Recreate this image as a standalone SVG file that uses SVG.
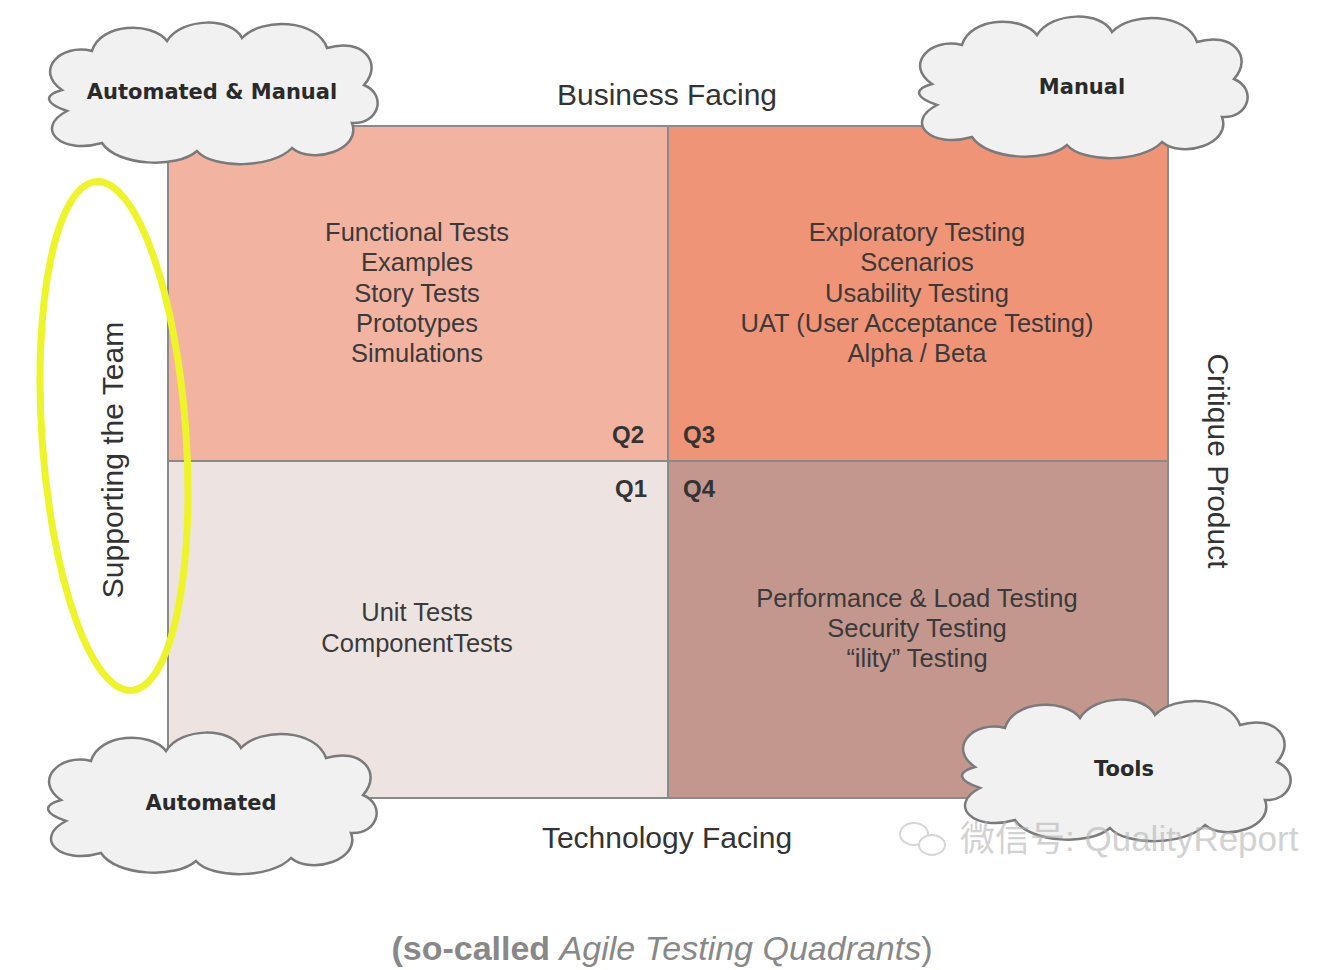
<svg xmlns="http://www.w3.org/2000/svg" width="1338" height="970" viewBox="0 0 1338 970">
<style>
.q{font-family:"Liberation Sans",Arial,sans-serif;font-size:25.5px;fill:#3a3a3a;text-anchor:middle}
.ql{font-family:"Liberation Sans",Arial,sans-serif;font-size:24px;font-weight:bold;fill:#333;text-anchor:middle}
.ax{font-family:"Liberation Sans",Arial,sans-serif;font-size:30px;fill:#333;text-anchor:middle}
.cl{font-family:"DejaVu Sans",Verdana,sans-serif;font-size:21px;font-weight:bold;fill:#2a2a2a;text-anchor:middle}
.cloud{fill:#f1f1f1;stroke:#7a7a7a;stroke-width:2.5}
</style>
<defs>
<path id="cloudShape" d="M -150,-3 C -178,-22 -152,-50 -120,-42 C -112,-70 -60,-72 -45,-52 C -30,-76 20,-76 30,-55 C 50,-76 105,-74 115,-45 C 150,-56 172,-30 152,-8 C 176,2 166,32 140,30 C 150,57 100,72 80,55 C 60,76 0,76 -15,58 C -35,76 -95,73 -110,50 C -152,62 -178,35 -145,18 C -168,10 -168,2 -150,-3 Z"/>
</defs>
<rect width="1338" height="970" fill="#ffffff"/>
<g id="quadrants">
<rect x="168" y="126" width="500" height="335" fill="#f2b3a0"/>
<rect x="668" y="126" width="500" height="335" fill="#ef9477"/>
<rect x="168" y="461" width="500" height="337" fill="#ede4e2"/>
<rect x="668" y="461" width="500" height="337" fill="#c3978e"/>
<rect x="168" y="126" width="1000" height="672" fill="none" stroke="#8a8a8a" stroke-width="2"/>
<line x1="668" y1="126" x2="668" y2="798" stroke="#8a8a8a" stroke-width="2"/>
<line x1="168" y1="461" x2="1168" y2="461" stroke="#8a8a8a" stroke-width="2"/>
</g>
<g id="q2">
<text class="q" x="417" y="241">Functional Tests</text>
<text class="q" x="417" y="271">Examples</text>
<text class="q" x="417" y="302">Story Tests</text>
<text class="q" x="417" y="332">Prototypes</text>
<text class="q" x="417" y="362">Simulations</text>
<text class="ql" x="628" y="443">Q2</text>
</g>
<g id="q3">
<text class="q" x="917" y="241">Exploratory Testing</text>
<text class="q" x="917" y="271">Scenarios</text>
<text class="q" x="917" y="302">Usability Testing</text>
<text class="q" x="917" y="332">UAT (User Acceptance Testing)</text>
<text class="q" x="917" y="362">Alpha / Beta</text>
<text class="ql" x="699" y="443">Q3</text>
</g>
<g id="q1">
<text class="q" x="417" y="621">Unit Tests</text>
<text class="q" x="417" y="652">ComponentTests</text>
<text class="ql" x="631" y="497">Q1</text>
</g>
<g id="q4">
<text class="q" x="917" y="607">Performance &amp; Load Testing</text>
<text class="q" x="917" y="637">Security Testing</text>
<text class="q" x="917" y="667">“ility” Testing</text>
<text class="ql" x="699" y="497">Q4</text>
</g>
<g id="axes">
<text class="ax" x="667" y="105">Business Facing</text>
<text class="ax" x="667" y="848">Technology Facing</text>
<text class="ax" transform="translate(123,460) rotate(-90)">Supporting the Team</text>
<text class="ax" transform="translate(1208,461) rotate(90)">Critique Product</text>
</g>
<g id="highlight">
<ellipse cx="114" cy="436" rx="72" ry="255" transform="rotate(-4 114 436)" fill="none" stroke="#eef42a" stroke-width="7"/>
</g>
<g id="cloud-automated-manual">
<use href="#cloudShape" class="cloud" transform="translate(212,93)"/>
<text class="cl" x="212" y="99">Automated &amp; Manual</text>
</g>
<g id="cloud-manual">
<use href="#cloudShape" class="cloud" transform="translate(1082,87)"/>
<text class="cl" x="1082" y="94">Manual</text>
</g>
<g id="cloud-automated">
<use href="#cloudShape" class="cloud" transform="translate(211,803)"/>
<text class="cl" x="211" y="810">Automated</text>
</g>
<g id="cloud-tools">
<use href="#cloudShape" class="cloud" transform="translate(1125,770)"/>
<text class="cl" x="1124" y="776">Tools</text>
</g>
<g id="watermark" opacity="0.6">
<ellipse cx="914" cy="834" rx="14" ry="11" fill="none" stroke="#bbb" stroke-width="2"/>
<ellipse cx="932" cy="845" rx="13" ry="10" fill="#fff" stroke="#bbb" stroke-width="2"/>
<text x="960" y="851" font-family="'Liberation Sans','Noto Sans CJK SC',sans-serif" font-size="35" fill="#b5b5b5">微信号: QualityReport</text>
</g>
<g id="caption">
<text x="662" y="960" text-anchor="middle" font-family="'Liberation Sans',Arial,sans-serif" font-size="34" fill="#888"><tspan font-weight="bold">(so-called</tspan> <tspan font-style="italic">Agile Testing Quadrants</tspan>)</text>
</g>
</svg>
